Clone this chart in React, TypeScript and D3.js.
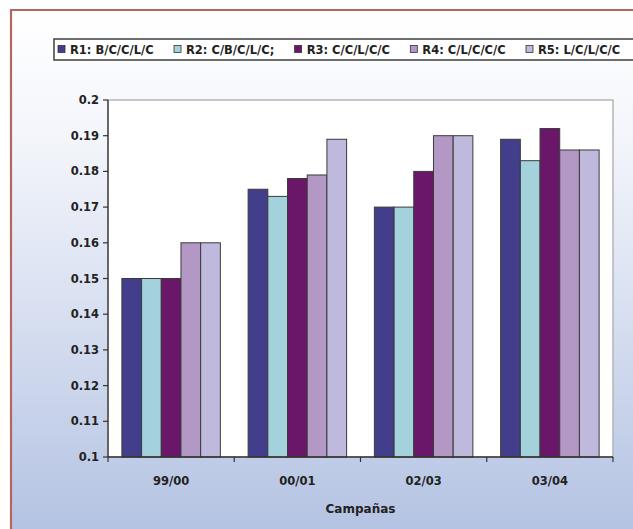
import React from "react";
import * as d3 from "d3";

// Campaigns on the x axis
const campaigns = ["99/00", "00/01", "02/03", "03/04"];

// Rotation series
const seriesNames = ["R1: B/C/C/L/C", "R2: C/B/C/L/C;", "R3: C/C/L/C/C", "R4: C/L/C/C/C", "R5: L/C/L/C/C"];
const r1 = [0.15, 0.175, 0.17, 0.189];
const r2 = [0.15, 0.173, 0.17, 0.183];
const r3 = [0.15, 0.178, 0.18, 0.192];
const r4 = [0.16, 0.179, 0.19, 0.186];
const r5 = [0.16, 0.189, 0.19, 0.186];
const seriesValues = [r1, r2, r3, r4, r5];

const yTicks = [0.1, 0.11, 0.12, 0.13, 0.14, 0.15, 0.16, 0.17, 0.18, 0.19, 0.2];
const xTitle = "Campañas";

const colors = ["#433e8c", "#a4d2dc", "#6a1769", "#b398c5", "#bfbadd"];

const W = 633;
const H = 529;
const plot = { left: 108, right: 613, top: 100, bottom: 457 };
const FONT = "'DejaVu Sans', Verdana, sans-serif";

function textWidth(s: string, font: string): number {
  const c = document.createElement("canvas").getContext("2d");
  if (!c) return s.length * 7;
  c.font = font;
  return c.measureText(s).width;
}

export default function App() {
  const x0 = d3
    .scaleBand<string>()
    .domain(campaigns)
    .range([plot.left, plot.right])
    .paddingInner(0.22)
    .paddingOuter(0.11);
  const x1 = d3
    .scaleBand<number>()
    .domain(d3.range(seriesNames.length))
    .range([0, x0.bandwidth()]);
  const y = d3.scaleLinear().domain([0.1, 0.2]).range([plot.bottom, plot.top]);

  const step = x0.step();
  const boundaries = d3.range(campaigns.length + 1).map((i) => plot.left + i * step);

  // legend layout: entries spread so the last one starts at lastX
  const legendSize = 11.5;
  const legendFont = `bold ${legendSize}px ${FONT}`;
  const firstX = 58;
  const lastX = 526;
  const itemW = seriesNames.map((n) => 12 + textWidth(n, legendFont));
  const legendGap = (lastX - firstX - d3.sum(itemW.slice(0, -1))) / (seriesNames.length - 1);
  let lx = firstX;
  const legendItems = seriesNames.map((name, i) => {
    const item = { name, i, x: lx };
    lx += itemW[i] + legendGap;
    return item;
  });

  return (
    <svg
      width={W}
      height={H}
      style={{ position: "absolute", left: 0, top: 0 }}
      fontFamily={FONT}
    >
      <defs>
        <linearGradient id="bg" x1="0" y1="0" x2="0" y2="1">
          <stop offset="0" stopColor="#ffffff" />
          <stop offset="0.25" stopColor="#f3f5fb" />
          <stop offset="1" stopColor="#b3c2e2" />
        </linearGradient>
      </defs>
      <rect x={0} y={0} width={W} height={H} fill="#ffffff" />
      <rect x={11} y={10} width={W} height={H} fill="url(#bg)" />
      <path d={`M11,${H + 2}V10H${W + 2}`} fill="none" stroke="#b2685f" strokeWidth={2.2} />

      {/* legend */}
      <rect x={54} y={39} width={W} height={21} fill="#ffffff" stroke="#4a4a4a" strokeWidth={1.6} />
      {legendItems.map((it) => (
        <g key={it.name}>
          <rect
            x={it.x}
            y={45.5}
            width={7}
            height={7}
            fill={colors[it.i]}
            stroke="#333"
            strokeWidth={0.8}
          />
          <text x={it.x + 12} y={53.5} fontSize={legendSize} fontWeight="bold" fill="#222">
            {it.name}
          </text>
        </g>
      ))}

      {/* plot area */}
      <rect
        x={plot.left}
        y={plot.top}
        width={plot.right - plot.left}
        height={plot.bottom - plot.top}
        fill="#ffffff"
        stroke="#b5b5b5"
        strokeWidth={1.5}
      />

      {/* bars */}
      {campaigns.map((c, ci) => (
        <g key={c} transform={`translate(${x0(c)},0)`}>
          {seriesValues.map((vals, si) => (
            <rect
              key={si}
              x={x1(si)}
              y={y(vals[ci])}
              width={x1.bandwidth()}
              height={y(0.1) - y(vals[ci])}
              fill={colors[si]}
              stroke="#3a3a3a"
              strokeWidth={1}
            />
          ))}
        </g>
      ))}

      {/* y axis */}
      <line x1={plot.left} x2={plot.left} y1={plot.top} y2={plot.bottom} stroke="#333" strokeWidth={1.3} />
      {yTicks.map((t) => (
        <g key={t}>
          <line x1={plot.left - 5} x2={plot.left} y1={y(t)} y2={y(t)} stroke="#333" strokeWidth={1.2} />
          <text
            x={plot.left - 9}
            y={y(t)}
            dy="0.35em"
            textAnchor="end"
            fontSize={11.5}
            fontWeight="bold"
            fill="#222"
          >
            {d3.format("")(+t.toFixed(2))}
          </text>
        </g>
      ))}

      {/* x axis */}
      <line x1={plot.left} x2={plot.right} y1={plot.bottom} y2={plot.bottom} stroke="#333" strokeWidth={1.3} />
      {boundaries.map((bx, i) => (
        <line key={i} x1={bx} x2={bx} y1={plot.bottom} y2={plot.bottom + 5} stroke="#333" strokeWidth={1.2} />
      ))}
      {campaigns.map((c) => (
        <text
          key={c}
          x={(x0(c) ?? 0) + x0.bandwidth() / 2}
          y={481}
          dy="0.35em"
          textAnchor="middle"
          fontSize={11.5}
          fontWeight="bold"
          fill="#222"
        >
          {c}
        </text>
      ))}
      <text
        x={(plot.left + plot.right) / 2}
        y={509}
        dy="0.35em"
        textAnchor="middle"
        fontSize={12}
        fontWeight="bold"
        fill="#222"
      >
        {xTitle}
      </text>
    </svg>
  );
}
